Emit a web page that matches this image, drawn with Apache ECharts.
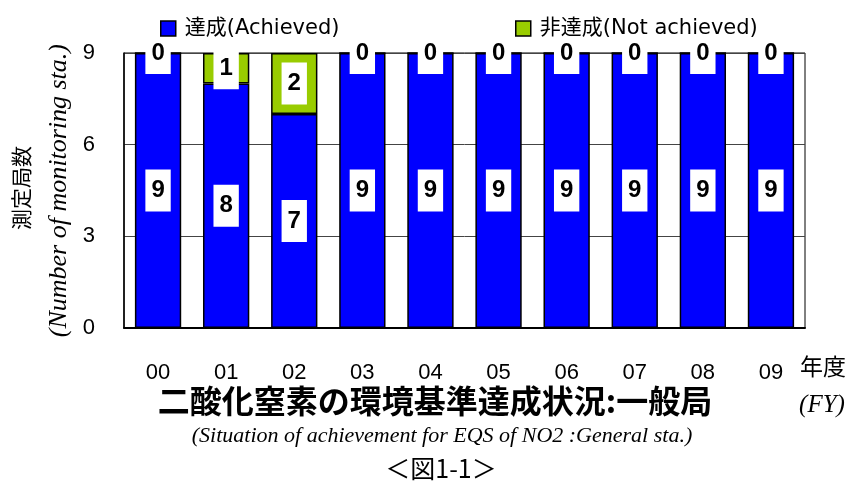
<!DOCTYPE html>
<html>
<head>
<meta charset="utf-8">
<script src="https://cdn.jsdelivr.net/npm/echarts@6/dist/echarts.min.js"></script>
<style>
  html, body { margin: 0; padding: 0; background: #fff; }
  #main { width: 852px; height: 483px; }
</style>
</head>
<body>
<div id="main"></div>
<script>
// 年度 (FY)
var years = ['00', '01', '02', '03', '04', '05', '06', '07', '08', '09'];
// 達成 / 非達成 の測定局数
var achieved = [9, 8, 7, 9, 9, 9, 9, 9, 9, 9];
var notAchieved = [0, 1, 2, 0, 0, 0, 0, 0, 0, 0];
var yMin = 0, yMax = 9, yStep = 3;

var jp = '"Noto Sans CJK JP", sans-serif';
var legendFont = '"DejaVu Sans", "Noto Sans CJK JP", sans-serif';
var serif = '"Liberation Serif", "DejaVu Serif", serif';

var chart = echarts.init(document.getElementById('main'));

var barLabel = {
  show: true,
  position: 'inside',
  color: '#000',
  fontSize: 24,
  fontWeight: 'bold',
  fontFamily: '"Liberation Sans", Arial, sans-serif',
  backgroundColor: '#fff',
  padding: [9, 6]
};

var legendBase = {
  top: 13,
  icon: 'rect',
  itemWidth: 15,
  itemHeight: 15,
  textStyle: { fontSize: 21, fontFamily: legendFont, color: '#000', padding: [0, 0, 0, 4] }
};

// 下部のテキスト（中央揃え）
function centerText(x, y, text, style) {
  return {
    type: 'text', x: x, y: y,
    style: Object.assign({ text: text, align: 'center', verticalAlign: 'middle', fill: '#000' }, style)
  };
}

var option = {
  animation: false,
  backgroundColor: '#fff',
  legend: [
    Object.assign({}, legendBase, {
      left: 155,
      data: [{ name: '達成(Achieved)', itemStyle: { borderColor: '#000', borderWidth: 1.5 } }]
    }),
    Object.assign({}, legendBase, {
      left: 510,
      data: [{ name: '非達成(Not achieved)', itemStyle: { borderColor: '#000', borderWidth: 1.5 } }]
    })
  ],
  grid: {
    left: 124,
    right: 47,
    top: 53,
    bottom: 155,
    show: true,
    borderColor: '#000',
    borderWidth: 1
  },
  xAxis: {
    type: 'category',
    data: years,
    axisLine: { lineStyle: { color: '#000', width: 2 } },
    axisTick: { inside: true, length: 7, lineStyle: { color: '#000' } },
    axisLabel: { fontSize: 22, color: '#000', margin: 34, fontFamily: '"Liberation Sans Narrow", "Liberation Sans", sans-serif' }
  },
  yAxis: {
    type: 'value',
    min: yMin,
    max: yMax,
    interval: yStep,
    axisLine: { show: true, lineStyle: { color: '#000', width: 1.5 } },
    axisTick: { show: false },
    splitLine: { lineStyle: { color: '#444', width: 1 } },
    axisLabel: { fontSize: 22, color: '#000', margin: 29, fontFamily: '"Liberation Sans", sans-serif' }
  },
  series: [
    {
      name: '達成(Achieved)',
      type: 'bar',
      stack: 'total',
      barCategoryGap: '32%',
      itemStyle: { color: '#0000ff', borderColor: '#000', borderWidth: 1.5 },
      label: barLabel,
      data: achieved
    },
    {
      name: '非達成(Not achieved)',
      type: 'bar',
      stack: 'total',
      barCategoryGap: '32%',
      itemStyle: { color: '#99cc00', borderColor: '#000', borderWidth: 1.5 },
      label: barLabel,
      data: notAchieved
    }
  ],
  graphic: [
    {
      type: 'text', left: 11, top: 146, rotation: Math.PI / 2,
      style: { text: '測定局数', fontSize: 21, fontFamily: jp, fill: '#000' }
    },
    {
      type: 'text', left: 46, top: 44, rotation: Math.PI / 2,
      style: { text: '(Number of monitoring sta.)', fontSize: 26, fontStyle: 'italic', fontFamily: serif, fill: '#000' }
    },
    centerText(823, 366, '年度', { fontSize: 23, fontFamily: jp }),
    centerText(822, 405, '(FY)', { fontSize: 25, fontStyle: 'italic', fontFamily: serif }),
    centerText(435, 401, '二酸化窒素の環境基準達成状況:一般局', { fontSize: 32, fontWeight: 'bold', fontFamily: jp }),
    centerText(442, 436, '(Situation of achievement for EQS of NO2 :General sta.)', { fontSize: 22, fontStyle: 'italic', fontFamily: serif }),
    centerText(441, 468, '＜図1-1＞', { fontSize: 25, fontFamily: jp })
  ]
};

chart.setOption(option);
</script>
</body>
</html>
